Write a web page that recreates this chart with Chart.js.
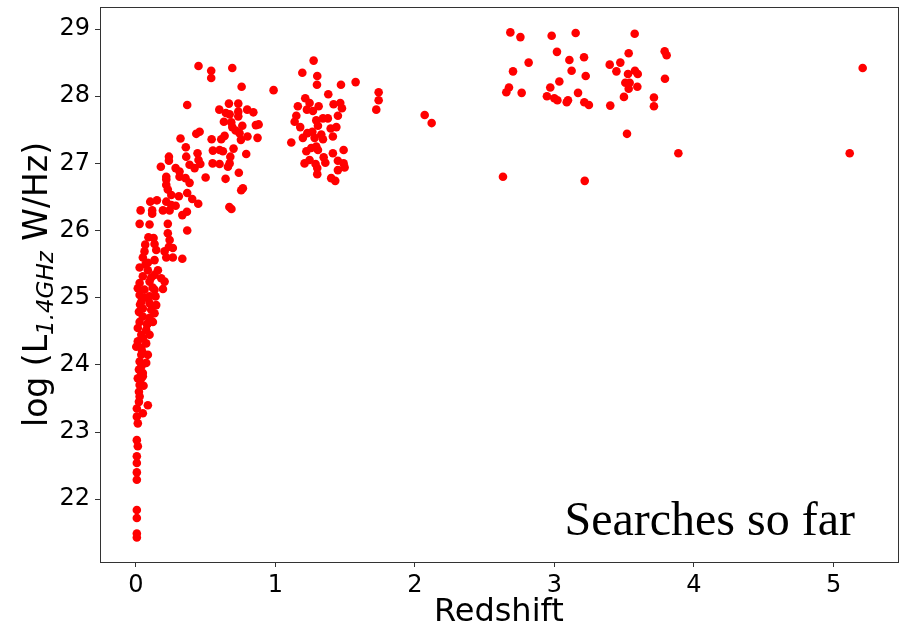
<!DOCTYPE html>
<html>
<head>
<meta charset="utf-8">
<script src="https://cdn.jsdelivr.net/npm/chart.js@4"></script>
<style>
html,body{margin:0;padding:0;background:#fff;}
#wrap{width:902px;height:628px;position:relative;}
</style>
</head>
<body>
<div id="wrap"><canvas id="c" width="902" height="628"></canvas></div>
<script>
// Redshift values (z)
const redshift = [
 // high-z
 2.684,2.756,2.98,3.152,3.575,3.018,3.107,3.212,2.815,2.703,3.123,3.224,3.035,3.396,3.472,3.532,3.444,3.527,3.577,3.597,3.508,3.539,3.532,3.594,3.79,3.804,3.792,2.674,2.655,2.765,2.97,2.946,2.999,3.021,3.088,3.097,3.169,3.214,3.247,3.40,3.498,3.713,3.713,3.52,3.888,2.631,3.217,5.209,5.116,
 // z ~ 1 - 2.2
 1.274,1.193,1.30,1.298,1.47,1.575,0.987,1.74,1.74,1.723,1.379,1.214,1.161,1.245,1.31,1.417,1.465,1.477,1.226,1.269,1.15,1.448,1.138,1.178,1.293,1.341,1.376,1.305,1.396,1.437,1.265,1.229,1.329,1.197,1.281,1.341,1.412,1.114,1.293,1.257,1.222,1.305,1.489,1.412,1.346,1.245,1.209,1.288,1.358,1.448,1.489,1.496,1.448,1.30,1.30,1.40,1.429,2.07,2.12,
 // z ~ 0.2 - 0.9
 0.449,0.54,0.54,0.691,0.758,0.368,0.667,0.734,0.798,0.842,0.598,0.645,0.672,0.734,0.734,0.631,0.684,0.691,0.763,0.88,0.715,0.743,0.457,0.433,0.636,0.612,0.543,0.753,0.872,0.32,0.358,0.552,0.60,0.624,0.70,0.677,0.442,0.361,0.237,0.237,0.791,0.449,0.385,0.462,0.60,0.66,0.672,0.179,0.285,0.313,0.421,0.738,0.218,0.313,0.356,0.50,0.643,0.218,0.385,0.767,0.67,0.685,0.755,0.55,0.80,0.86,
 // low z
 0.218,0.229,0.254,0.308,0.368,0.103,0.151,0.218,0.254,0.285,0.404,0.447,0.034,0.117,0.117,0.194,0.242,0.333,0.366,0.027,0.098,0.229,0.229,0.368,0.127,0.242,0.067,0.134,0.237,0.265,0.062,0.146,0.206,0.218,0.265,0.333,0.050,0.134,0.086,0.027,0.086,0.158,0.134,0.050,0.182,0.027,0.098,0.206,0.014,0.062,0.134,0.194,0.027,0.098,0.141,0.039,0.098,0.146,0.050,0.110,0.134,0.022,0.050,0.098,0.027,0.086,0.122,0.014,0.074,0.039,0.098,0.014,0.074,0.003,0.039,0.086,0.039,0.027,0.074,0.022,0.050,0.039,
 0.039,0.014,0.050,0.027,0.055,0.022,0.027,0.022,0.086,0.007,0.050,0.007,0.014,0.007,0.014,0.007,0.007,0.007,0.007,0.007,0.007,0.007,0.007,
 0.06,0.08,0.045,0.11,0.03,0.07,0.05,0.09,0.12,0.04
];
// log L(1.4GHz) values
const logL = [
 28.95,28.88,28.90,28.94,28.93,28.66,28.54,28.58,28.50,28.37,28.38,28.30,28.22,28.47,28.50,28.64,28.37,28.33,28.38,28.33,28.20,28.20,28.11,28.14,28.67,28.61,28.26,28.13,28.06,28.05,28.13,28.00,27.97,27.94,27.91,27.94,28.05,27.91,27.87,27.86,27.99,27.98,27.85,27.44,27.15,26.80,26.74,28.42,27.15,
 28.53,28.35,28.30,28.17,28.17,28.21,28.09,28.06,27.94,27.80,28.03,27.97,27.85,27.90,27.85,27.88,27.90,27.82,27.80,27.78,27.71,27.71,27.62,27.54,27.64,27.67,27.67,27.56,27.52,27.54,27.47,27.45,27.43,27.38,27.38,27.36,27.40,27.31,27.25,27.23,27.18,27.20,27.20,27.15,27.09,27.05,27.00,26.99,27.01,27.04,27.00,26.94,26.90,26.93,26.84,26.78,26.74,27.72,27.60,
 28.45,28.38,28.27,28.42,28.14,27.87,27.89,27.89,27.80,27.76,27.80,27.75,27.73,27.77,27.70,27.62,27.61,27.54,27.56,27.58,27.49,27.45,27.47,27.44,27.41,27.36,27.36,27.35,27.38,27.37,27.24,27.19,27.20,27.18,27.22,27.10,27.15,27.10,27.10,27.04,27.14,27.05,26.98,26.99,26.99,26.95,27.00,26.95,26.93,26.88,26.93,26.86,26.80,26.80,26.78,26.79,26.77,26.68,26.71,26.63,26.35,26.32,26.60,27.00,27.40,27.57,
 26.76,26.61,26.53,26.51,26.56,26.43,26.45,26.43,26.38,26.37,26.47,26.40,26.30,26.30,26.25,26.30,26.30,26.23,26.28,26.10,26.09,26.10,25.96,26.00,25.89,25.86,25.79,25.80,25.76,25.74,25.69,25.71,25.69,25.60,25.60,25.58,25.60,25.56,25.52,25.45,25.41,25.41,25.34,25.32,25.29,25.22,25.24,25.24,25.14,25.12,25.12,25.13,25.04,25.02,25.02,24.94,24.92,24.89,24.84,24.82,24.77,24.79,24.72,24.70,24.64,24.62,24.64,24.55,24.52,24.45,24.45,24.35,24.32,24.27,24.25,24.15,24.15,24.05,24.03,23.93,23.88,23.80,
 23.88,23.80,23.83,23.70,23.69,23.60,23.53,23.45,23.40,23.35,23.28,23.23,23.13,22.88,22.79,22.64,22.54,22.40,22.29,21.84,21.72,21.49,21.43,
 25.0,24.6,24.2,25.3,24.9,25.5,24.4,25.9,25.15,23.98
];
const xTicks = [0,1,2,3,4,5];
const yTicks = [22,23,24,25,26,27,28,29];
const xLabel = 'Redshift';
const yLabelMain = 'log (L';
const yLabelSub = '1.4GHz';
const yLabelTail = ' W/Hz)';
const note = 'Searches so far';

const points = redshift.map((z,i)=>({x:z,y:logL[i]}));

const decor = {
  id:'decor',
  afterDraw(chart){
    const ctx = chart.ctx, a = chart.chartArea;
    ctx.save();
    // frame
    ctx.strokeStyle = '#333';
    ctx.lineWidth = 1;
    ctx.strokeRect(Math.round(a.left)+0.5, Math.round(a.top)+0.5, Math.round(a.right-a.left), Math.round(a.bottom-a.top));
    // note
    ctx.fillStyle = '#000';
    ctx.font = '48px "Liberation Serif", "Times New Roman", serif';
    ctx.textAlign = 'right';
    ctx.textBaseline = 'alphabetic';
    ctx.fillText(note, 855, 535);
    // x title
    ctx.font = '32px "DejaVu Sans", sans-serif';
    ctx.textAlign = 'center';
    ctx.fillText(xLabel, (a.left+a.right)/2, 621);
    // y title with subscript
    ctx.translate(47, (a.top+a.bottom)/2);
    ctx.rotate(-Math.PI/2);
    const f1 = '33px "DejaVu Sans", sans-serif';
    const f2 = 'italic 23px "DejaVu Sans", sans-serif';
    ctx.font = f1; const w1 = ctx.measureText(yLabelMain).width; const w3 = ctx.measureText(yLabelTail).width;
    ctx.font = f2; const w2 = ctx.measureText(yLabelSub).width;
    let x = -(w1+w2+w3)/2;
    ctx.textAlign = 'left';
    ctx.font = f1; ctx.fillText(yLabelMain, x, 0); x += w1;
    ctx.font = f2; ctx.fillText(yLabelSub, x, 6); x += w2;
    ctx.font = f1; ctx.fillText(yLabelTail, x, 0);
    ctx.restore();
  }
};

new Chart(document.getElementById('c'), {
  type:'scatter',
  data:{datasets:[{data:points, backgroundColor:'#ff0000', borderWidth:0, pointRadius:4.3, pointHoverRadius:4.3}]},
  options:{
    responsive:false, animation:false,
    layout:{padding:{left:0, top:7, right:4, bottom:0}},
    plugins:{legend:{display:false}, tooltip:{enabled:false}},
    scales:{
      x:{type:'linear', min:-0.257, max:5.46,
        afterBuildTicks(s){ s.ticks = xTicks.map(v=>({value:v})); },
        afterFit(s){ s.height = 66; s.paddingLeft = 0; s.paddingRight = 0; },
        grid:{drawOnChartArea:false, drawTicks:true, tickLength:5, color:'#333'},
        border:{display:false},
        ticks:{color:'#000', font:{family:'"DejaVu Sans"', size:24}, padding:4, maxRotation:0}
      },
      y:{type:'linear', min:21.066, max:29.328,
        afterBuildTicks(s){ s.ticks = yTicks.map(v=>({value:v})); },
        afterFit(s){ s.width = 100; s.paddingTop = 0; s.paddingBottom = 0; },
        grid:{drawOnChartArea:false, drawTicks:true, tickLength:5, color:'#333'},
        border:{display:false},
        ticks:{color:'#000', font:{family:'"DejaVu Sans"', size:24}, padding:5}
      }
    }
  },
  plugins:[decor]
});
</script>
</body>
</html>
